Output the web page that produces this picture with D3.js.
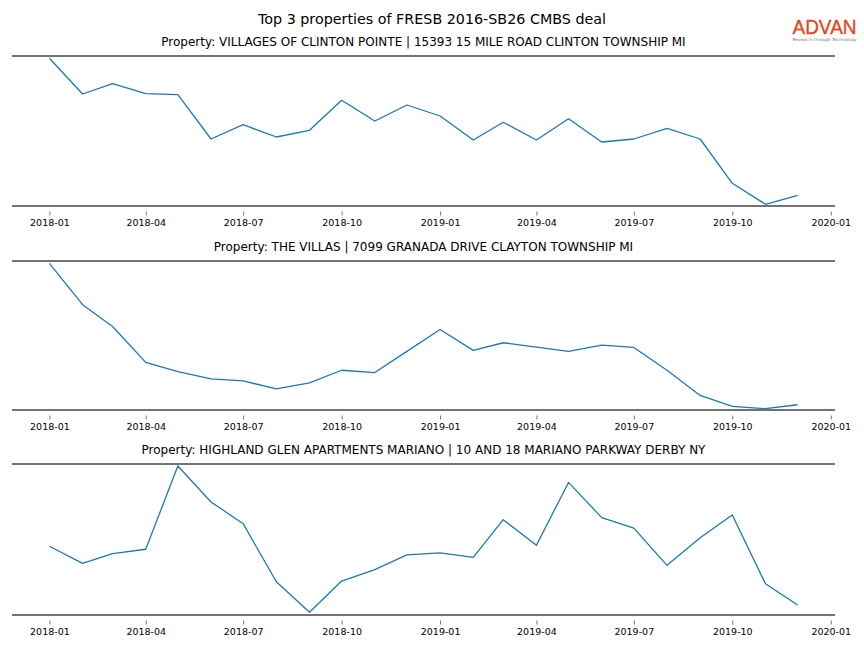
<!DOCTYPE html>
<html>
<head>
<meta charset="utf-8">
<script src="https://cdn.jsdelivr.net/npm/d3@7"></script>
<style>
  html, body { margin: 0; padding: 0; background: #fff; }
  svg { display: block; font-family: "DejaVu Sans", sans-serif; }
</style>
</head>
<body>
<svg id="chart" width="864" height="648"></svg>
<script>
// ---- Data ----
const months = ["2018-01","2018-02","2018-03","2018-04","2018-05","2018-06","2018-07","2018-08","2018-09","2018-10","2018-11","2018-12",
                "2019-01","2019-02","2019-03","2019-04","2019-05","2019-06","2019-07","2019-08","2019-09","2019-10","2019-11","2019-12"];
const titles = [
  "Property: VILLAGES OF CLINTON POINTE | 15393 15 MILE ROAD CLINTON TOWNSHIP MI",
  "Property: THE VILLAS | 7099 GRANADA DRIVE CLAYTON TOWNSHIP MI",
  "Property: HIGHLAND GLEN APARTMENTS MARIANO | 10 AND 18 MARIANO PARKWAY DERBY NY"
];
const series1 = [147.7,112,122.3,112.3,111.3,67,81.3,69,75.7,105.7,85,101,90,66,83.7,66,87.3,64,67,77.7,67,22.7,1.7,10.7];
const series2 = [147.7,106,84,48,38.7,31.3,29.3,21.3,27.3,40,37.7,59,81,60,67.7,63.3,59,65.3,63,40,14.7,3.7,1.3,5.3];
const series3 = [68.3,51.3,61,65.3,148,112.3,90.7,33,2.7,33.7,45,59.7,61.7,57.3,94.7,69.3,131.7,96.7,86.3,49.3,76.7,99.3,31,10];
const tickLabels = ["2018-01","2018-04","2018-07","2018-10","2019-01","2019-04","2019-07","2019-10","2020-01"];
const mainTitle = "Top 3 properties of FRESB 2016-SB26 CMBS deal";

// ---- Layout ----
const svg = d3.select("#chart");
const parse = d3.utcParse("%Y-%m");
const dates = months.map(parse);
const tickDates = tickLabels.map(parse);
const allSeries = [series1, series2, series3];
const panels = [
  {top: 56, bottom: 206},
  {top: 261, bottom: 410},
  {top: 464, bottom: 615}
];
const left = 12, right = 835;

const first = dates[0], last = dates[dates.length - 1];
const span = last - first;
const x = d3.scaleUtc()
  .domain([new Date(+first - span * 0.05), new Date(+last + span * 0.05)])
  .range([left, right]);

svg.append("text")
  .attr("x", 432).attr("y", 24)
  .attr("text-anchor", "middle")
  .attr("font-size", 14.3)
  .attr("fill", "#000")
  .text(mainTitle);

// logo
const logo = svg.append("g");
logo.append("text")
  .attr("x", 824.5).attr("y", 33.5)
  .attr("text-anchor", "middle")
  .attr("font-family", "Liberation Sans, Arial, sans-serif")
  .attr("font-size", 20.5)
  .attr("fill", "#e04a1f")
  .attr("stroke", "#e04a1f")
  .attr("stroke-width", 0.4)
  .attr("textLength", 64)
  .attr("lengthAdjust", "spacingAndGlyphs")
  .text("ADVAN");
logo.append("text")
  .attr("x", 824.5).attr("y", 40.5)
  .attr("text-anchor", "middle")
  .attr("font-size", 4)
  .attr("fill", "#777")
  .attr("textLength", 64)
  .attr("lengthAdjust", "spacingAndGlyphs")
  .text("Research through Technology");

panels.forEach((p, i) => {
  const y = d3.scaleLinear().domain([0, 150]).range([p.bottom, p.top]);
  const g = svg.append("g");

  g.append("text")
    .attr("x", (left + right) / 2).attr("y", p.top - 10)
    .attr("text-anchor", "middle")
    .attr("font-size", 12)
    .attr("fill", "#000")
    .text(titles[i]);

  const axis = d3.axisBottom(x)
    .tickValues(tickDates)
    .tickFormat((d, j) => tickLabels[j])
    .tickSize(4)
    .tickPadding(4);
  const ax = g.append("g")
    .attr("transform", `translate(0,${p.bottom + 5.5})`)
    .call(axis);
  ax.select(".domain").remove();
  ax.selectAll(".tick line").attr("stroke", "#555").attr("stroke-width", 0.8);
  ax.selectAll(".tick text").attr("font-size", 9.5).attr("fill", "#000")
    .attr("font-family", "DejaVu Sans, sans-serif");

  g.append("line").attr("x1", left).attr("x2", right).attr("y1", p.top).attr("y2", p.top)
    .attr("stroke", "#444").attr("stroke-width", 1.6);
  g.append("line").attr("x1", left).attr("x2", right).attr("y1", p.bottom).attr("y2", p.bottom)
    .attr("stroke", "#444").attr("stroke-width", 1.6);

  const line = d3.line()
    .x((d, j) => x(dates[j]))
    .y(d => y(d));
  g.append("path")
    .datum(allSeries[i])
    .attr("fill", "none")
    .attr("stroke", "#1f77b4")
    .attr("stroke-width", 1.3)
    .attr("stroke-linejoin", "round")
    .attr("d", line);
});
</script>
</body>
</html>
